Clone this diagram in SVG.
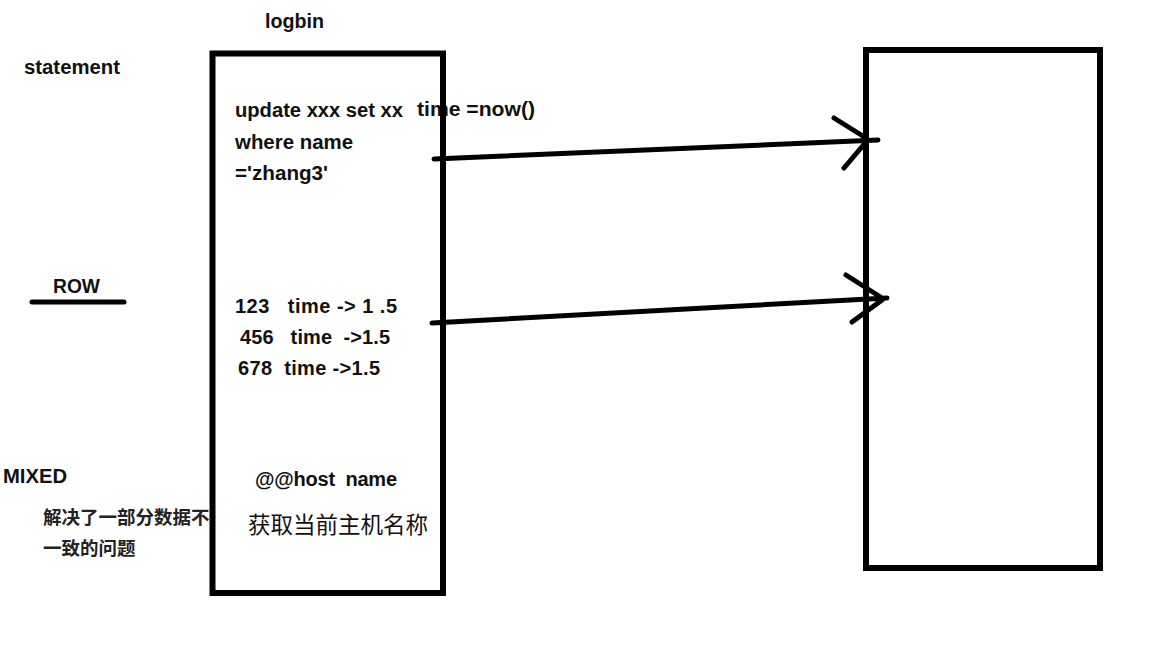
<svg xmlns="http://www.w3.org/2000/svg" width="1170" height="652" viewBox="0 0 1170 652">
<style>
.t{font-family:"Liberation Sans","Noto Sans CJK SC",sans-serif;font-weight:bold;font-size:20px;fill:#111}
.c{font-family:"Noto Sans CJK SC",sans-serif;font-weight:bold;font-size:18.5px;fill:#222}
.cr{font-family:"Noto Sans CJK SC",sans-serif;font-size:22.5px;fill:#111}
.box{fill:none;stroke:#000;stroke-width:6}
.ln{fill:none;stroke:#000;stroke-width:5;stroke-linecap:round;stroke-linejoin:round}
</style>
<rect width="1170" height="652" fill="#fff"/>
<g id="labels">
<text class="t" x="265" y="28" textLength="59" lengthAdjust="spacingAndGlyphs">logbin</text>
<text class="t" x="24" y="74" textLength="96" lengthAdjust="spacingAndGlyphs">statement</text>
<text class="t" x="53" y="293" textLength="47" lengthAdjust="spacingAndGlyphs">ROW</text>
<line class="ln" x1="32" y1="302" x2="124" y2="302"/>
<text class="t" x="3" y="483" textLength="64" lengthAdjust="spacingAndGlyphs">MIXED</text>
<text class="c" x="43" y="524">解决了一部分数据不</text>
<text class="c" x="43" y="555">一致的问题</text>
<text class="t" x="417" y="116" textLength="118" lengthAdjust="spacingAndGlyphs">time =now()</text>
</g>
<g id="logbin">
<text class="t" x="235" y="117" textLength="168" lengthAdjust="spacingAndGlyphs">update xxx set xx</text>
<text class="t" x="235" y="149" textLength="118" lengthAdjust="spacingAndGlyphs">where name</text>
<text class="t" x="235" y="180" textLength="93" lengthAdjust="spacingAndGlyphs">='zhang3'</text>
<text class="t" x="235" y="313" xml:space="preserve" textLength="162" lengthAdjust="spacing">123   time -&gt; 1 .5</text>
<text class="t" x="240" y="344" xml:space="preserve" textLength="150" lengthAdjust="spacing">456   time  -&gt;1.5</text>
<text class="t" x="238" y="375" xml:space="preserve" textLength="142" lengthAdjust="spacing">678  time -&gt;1.5</text>
<text class="t" x="255" y="486" xml:space="preserve" textLength="142" lengthAdjust="spacing">@@host  name</text>
<text class="cr" x="248" y="533">获取当前主机名称</text>
<rect class="box" x="212.5" y="53.5" width="230.5" height="539.5"/>
</g>
<g id="target">
<rect class="box" x="866" y="50" width="234" height="518"/>
</g>
<g id="connectors">
<path class="ln" d="M434 159 L878 140 M834 118 L866 138 M844 168 L866 142"/>
<path class="ln" d="M432 323 L887 298 M846 275 L882 298 M852 322 L882 300"/>
</g>
</svg>
